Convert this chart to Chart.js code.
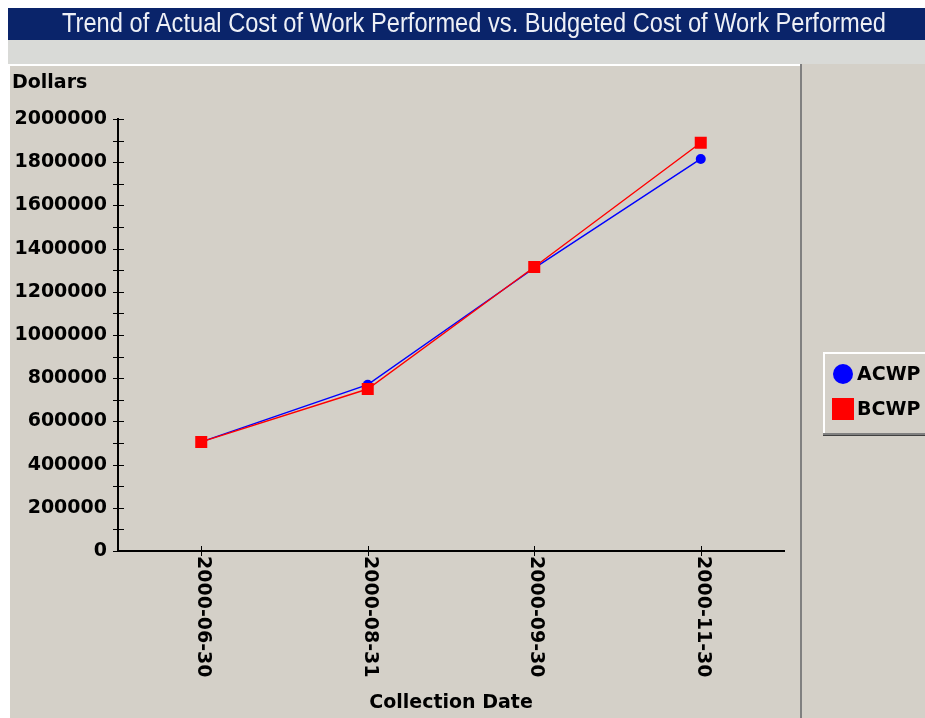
<!DOCTYPE html>
<html>
<head>
<meta charset="utf-8">
<title>ACWP vs BCWP</title>
<script src="https://cdn.jsdelivr.net/npm/chart.js@4.4.0/dist/chart.umd.min.js"></script>
<style>
  html, body { margin: 0; padding: 0; background: #fff; }
  canvas { display: block; }
</style>
</head>
<body>
<canvas id="myChart" width="925" height="718"></canvas>
<script>
  // chart data
  const chartTitle = 'Trend of Actual Cost of Work Performed vs. Budgeted Cost of Work Performed';
  const dates = ['2000-06-30', '2000-08-31', '2000-09-30', '2000-11-30']; // collection dates
  const acwp = [505000, 770000, 1310000, 1815000]; // actual cost of work performed
  const bcwp = [505000, 750000, 1315000, 1890000]; // budgeted cost of work performed
  const yLabels = [0, 200000, 400000, 600000, 800000, 1000000, 1200000, 1400000, 1600000, 1800000, 2000000];

  const bold = '"DejaVu Sans", Verdana, sans-serif';
  const grey = '#d4d0c8';

  // background, title bar, panel and legend box
  const frame = {
    id: 'frame',
    beforeDraw(chart) {
      const c = chart.ctx;
      c.save();
      c.fillStyle = '#fff';
      c.fillRect(0, 0, 925, 718);
      c.fillStyle = '#d9dad7';
      c.fillRect(8, 40, 917, 24);
      c.fillStyle = grey;
      c.fillRect(8, 64, 917, 654);
      c.fillStyle = '#0a246a';
      c.fillRect(8, 8, 917, 32);

      // panel edges
      c.fillStyle = '#fff';
      c.fillRect(8, 64, 794, 2);
      c.fillRect(8, 64, 2, 654);
      c.fillStyle = '#808080';
      c.fillRect(800, 64, 2, 654);

      // title, squeezed to the width of the original
      c.font = '27px "Liberation Sans Narrow", "Liberation Sans", Arial, sans-serif';
      c.fillStyle = '#eef0f6';
      c.textAlign = 'center';
      c.textBaseline = 'middle';
      const w = c.measureText(chartTitle).width;
      c.save();
      c.translate(474, 25);
      c.scale(824 / w, 1);
      c.fillText(chartTitle, 0, 0);
      c.restore();

      // y axis title
      c.font = 'bold 19px ' + bold;
      c.fillStyle = '#000';
      c.textAlign = 'left';
      c.fillText('Dollars', 12, 83);

      // legend box
      c.fillStyle = '#fff';
      c.fillRect(823, 352, 102, 2);
      c.fillRect(823, 352, 2, 83);
      c.fillStyle = '#808080';
      c.fillRect(823, 433, 102, 2);
      c.fillStyle = '#404040';
      c.fillRect(823, 435, 102, 1);
      chart.data.datasets.forEach((ds, i) => {
        const cy = 374 + i * 35;
        c.fillStyle = ds.backgroundColor;
        if (ds.pointStyle === 'circle') {
          c.beginPath();
          c.arc(843, cy, 10, 0, Math.PI * 2);
          c.fill();
        } else {
          c.fillRect(832, cy - 11, 22, 22);
        }
        c.fillStyle = '#000';
        c.font = 'bold 19px ' + bold;
        c.fillText(ds.label, 857, cy + 1);
      });
      c.restore();
    },
    afterDraw(chart) {
      const c = chart.ctx;
      const x = chart.scales.x, y = chart.scales.y;
      c.save();
      c.strokeStyle = '#000';
      c.lineWidth = 1;
      // y ticks cross the axis
      y.ticks.forEach(t => {
        const py = Math.round(y.getPixelForValue(t.value)) + 0.5;
        c.beginPath();
        c.moveTo(y.right - 5, py);
        c.lineTo(y.right + 6, py);
        c.stroke();
      });
      // x ticks and labels reading top to bottom
      c.font = 'bold 19px ' + bold;
      c.fillStyle = '#000';
      c.textAlign = 'left';
      c.textBaseline = 'middle';
      dates.forEach((d, i) => {
        const px = Math.round(x.getPixelForTick(i)) + 0.5;
        c.beginPath();
        c.moveTo(px, x.top - 5);
        c.lineTo(px, x.top + 5);
        c.stroke();
        c.save();
        c.translate(px + 1, x.top + 5);
        c.rotate(Math.PI / 2);
        c.fillText(d, 0, 0);
        c.restore();
      });
      c.restore();
    }
  };

  const ctx = document.getElementById('myChart').getContext('2d');

  const myChart = new Chart(ctx, {
    type: 'line',
    data: {
      labels: dates,
      datasets: [{
        label: 'ACWP',
        data: acwp,
        borderColor: '#0000ff',
        backgroundColor: '#0000ff',
        borderWidth: 1.4,
        pointStyle: 'circle',
        pointRadius: 5,
        pointBorderWidth: 0,
        order: 1
      }, {
        label: 'BCWP',
        data: bcwp,
        borderColor: '#ff0000',
        backgroundColor: '#ff0000',
        borderWidth: 1.4,
        pointStyle: 'rect',
        pointRadius: 8.5,
        pointBorderWidth: 0,
        order: 0
      }]
    },
    options: {
      responsive: false,
      animation: false,
      layout: {
        padding: { left: 8, top: 119, right: 141, bottom: 0 }
      },
      plugins: {
        legend: { display: false },
        tooltip: { enabled: false }
      },
      elements: {
        line: { tension: 0 }
      },
      scales: {
        x: {
          offset: true,
          grid: { display: false, drawTicks: false },
          border: { display: true, color: '#000', width: 2 },
          ticks: { display: false },
          title: {
            display: true,
            text: 'Collection Date',
            color: '#000',
            font: { family: bold, weight: 'bold', size: 19 },
            padding: { top: 0, bottom: 4 }
          },
          afterFit: s => { s.height = 167; }
        },
        y: {
          min: 0,
          max: 2000000,
          grid: { display: false, drawTicks: false },
          border: { display: true, color: '#000', width: 2 },
          ticks: {
            stepSize: 100000,
            autoSkip: false,
            padding: 11,
            color: '#000',
            font: { family: bold, weight: 'bold', size: 19 },
            callback: v => yLabels.includes(v) ? String(v) : ''
          },
          afterFit: s => { s.width = 110; }
        }
      }
    },
    plugins: [frame]
  });
</script>
</body>
</html>
